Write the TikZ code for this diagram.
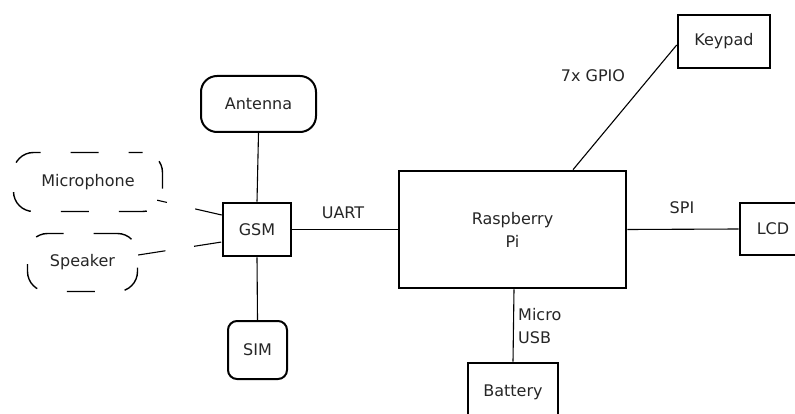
\documentclass[tikz,border=0pt]{standalone}
\usepackage{fontspec}
\setmainfont{DejaVu Sans}
\begin{document}
\begin{tikzpicture}[x=1pt,y=-1pt,
  every node/.style={text=black!85, font=\fontsize{16}{23}\selectfont},
  blk/.style={draw, line width=2.6pt, inner sep=0pt, align=center},
  rblk/.style={draw, line width=2pt, inner sep=0pt, align=center},
  dblk/.style={draw, line width=1.4pt, inner sep=0pt, align=center, dash pattern=on 28pt off 30pt},
  wire/.style={line width=1.1pt},
  dwire/.style={line width=1.1pt, dash pattern=on 27.5pt off 29pt},
  lbl/.style={inner sep=0pt}
]
\useasboundingbox (0,0) rectangle (795,414);
\clip (0,0) rectangle (795,414);
\fill[white] (0,0) rectangle (795,414);

% nodes
\node[blk, minimum width=227pt, minimum height=117pt] (pi) at (512.5,229.5) {Raspberry\\Pi};
\node[blk, minimum width=68pt, minimum height=53pt] (gsm) at (257,229.5) {GSM};
\node[blk, minimum width=92pt, minimum height=53pt] (keypad) at (724,41.5) {Keypad};
\node[blk, minimum width=66pt, minimum height=52pt] (lcd) at (773,229) {LCD};
\node[blk, minimum width=90pt, minimum height=58pt] (battery) at (513,392) {Battery};
\node[rblk, rounded corners=16pt, minimum width=115pt, minimum height=56pt] (antenna) at (258.5,104) {Antenna};
\node[rblk, rounded corners=9pt, minimum width=59pt, minimum height=58pt] (sim) at (257.5,350) {SIM};
\node[dblk, rounded corners=20pt, minimum width=149pt, minimum height=59pt, dash phase=14pt] (mic) at (88,182) {Microphone};
\node[dblk, rounded corners=20pt, minimum width=110pt, minimum height=58pt, dash phase=4pt] (spk) at (82.5,262.5) {Speaker};

% labels
\node[lbl] (uart) at (343,213) {UART};
\node[lbl] (spi) at (682,208) {SPI};
\node[lbl] (gpio) at (593,76) {7x GPIO};
\node[lbl, anchor=west, align=left] (usb) at (518,326.5) {Micro\\USB};

% connectors
\draw[wire] (antenna.south) -- (gsm.north);
\draw[wire] (gsm.south) -- (sim.north);
\draw[wire] (gsm.east) -- (pi.west);
\draw[wire] (pi.east) -- (lcd.west);
\draw[wire] ([xshift=1.5pt]pi.south) -- (battery.north);
\draw[wire] ([xshift=60.5pt]pi.north) -- ([yshift=-3.5pt]keypad.west);
\draw[dwire, dash phase=17.5pt] ([xshift=-6pt,yshift=12pt]mic.south east) -- ([yshift=14.5pt]gsm.west);
\draw[dwire] ([yshift=7.5pt]spk.east) -- ([yshift=-12.5pt]gsm.west);
\end{tikzpicture}
\end{document}
